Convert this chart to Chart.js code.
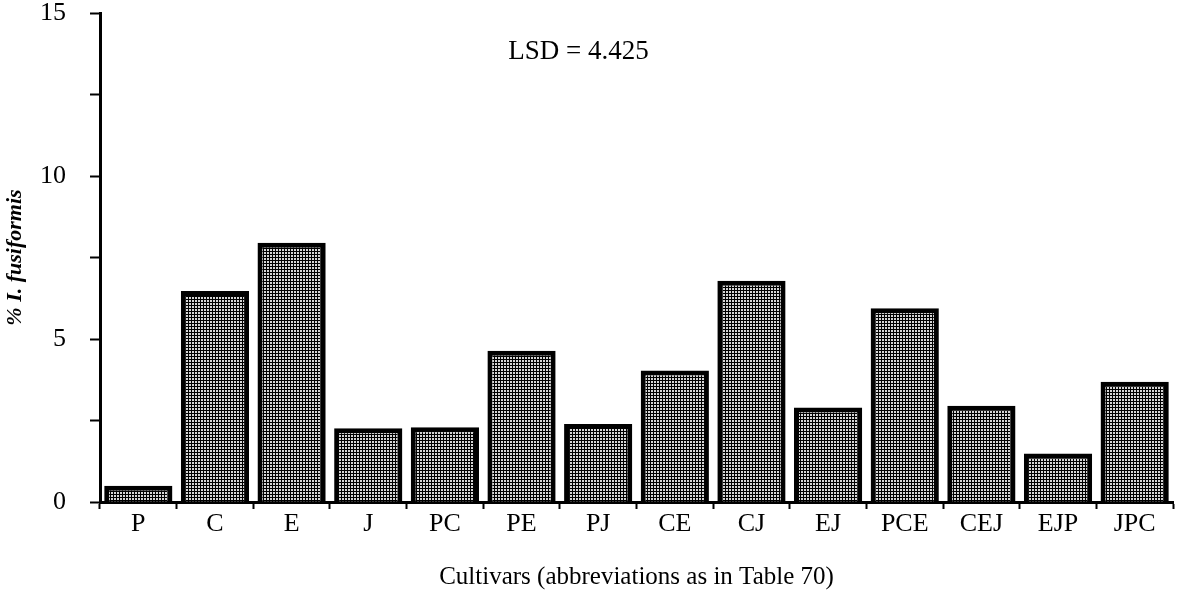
<!DOCTYPE html>
<html>
<head>
<meta charset="utf-8">
<script src="https://cdn.jsdelivr.net/npm/chart.js@4/dist/chart.umd.min.js"></script>
<style>
  html, body { margin: 0; padding: 0; background: #fff; }
  canvas { display: block; }
</style>
</head>
<body>
<canvas id="myChart" width="1180" height="601"></canvas>
<script>
// cultivar mixtures and % I. fusiformis for each
var cultivars = ['P', 'C', 'E', 'J', 'PC', 'PE', 'PJ', 'CE', 'CJ', 'EJ', 'PCE', 'CEJ', 'EJP', 'JPC'];
var percent = [0.5, 6.47, 7.95, 2.26, 2.29, 4.64, 2.39, 4.03, 6.79, 2.9, 5.94, 2.95, 1.49, 3.69];
var yTicks = [0, 5, 10, 15];
var lsdText = 'LSD = 4.425';

var serif = '"Liberation Serif", "Times New Roman", serif';
var canvas = document.getElementById('myChart');

// small dot screen used as the bar fill
function stipple() {
  var tile = document.createElement('canvas');
  tile.width = 3;
  tile.height = 3;
  var g = tile.getContext('2d');
  g.fillStyle = '#d6d6d6';
  g.fillRect(0, 0, 3, 3);
  g.fillStyle = '#000';
  g.fillRect(0, 2, 3, 1);
  g.fillRect(2, 0, 1, 3);
  return canvas.getContext('2d').createPattern(tile, 'repeat');
}

var lsdLabel = {
  id: 'lsdLabel',
  afterDraw: function (chart) {
    var ctx = chart.ctx;
    var area = chart.chartArea;
    ctx.save();
    ctx.font = '27px ' + serif;
    ctx.fillStyle = '#000';
    ctx.textAlign = 'center';
    ctx.textBaseline = 'middle';
    ctx.fillText(lsdText, area.left + area.width * 0.446, chart.scales.y.getPixelForValue(13.8));
    ctx.restore();
  }
};

var myChart = new Chart(canvas, {
  type: 'bar',
  data: {
    labels: cultivars,
    datasets: [{
      data: percent,
      backgroundColor: stipple(),
      borderColor: '#000',
      borderWidth: 5,
      categoryPercentage: 1,
      barPercentage: 0.89
    }]
  },
  options: {
    responsive: false,
    animation: false,
    layout: { padding: { left: 0, top: 13, right: 7, bottom: 0 } },
    plugins: {
      legend: { display: false },
      tooltip: { enabled: false }
    },
    scales: {
      x: {
        grid: {
          drawOnChartArea: false,
          drawTicks: true,
          tickLength: 7,
          tickWidth: 2,
          tickColor: '#000'
        },
        border: { color: '#000', width: 3 },
        ticks: {
          color: '#000',
          font: { family: serif, size: 26 },
          padding: 0,
          maxRotation: 0,
          autoSkip: false
        },
        title: {
          display: true,
          text: 'Cultivars (abbreviations as in Table 70)',
          color: '#000',
          font: { family: serif, size: 25 },
          padding: { top: 0, bottom: 9 }
        },
        afterFit: function (scale) { scale.height = 99; }
      },
      y: {
        min: 0,
        max: 15,
        grid: {
          drawOnChartArea: false,
          drawTicks: true,
          tickLength: 10,
          tickWidth: 2,
          tickColor: '#000'
        },
        border: { color: '#000', width: 3 },
        ticks: {
          stepSize: 2.5,
          color: '#000',
          font: { family: serif, size: 26 },
          padding: 24,
          callback: function (v) { return yTicks.indexOf(v) >= 0 ? v : ''; }
        },
        title: {
          display: true,
          text: '% I. fusiformis',
          color: '#000',
          font: { family: serif, size: 22, style: 'italic', weight: 'bold' },
          padding: { top: 2, bottom: 0 }
        },
        afterFit: function (scale) {
          scale.width = 100;
          scale.paddingTop = 0;
          scale.paddingBottom = 0;
        }
      }
    }
  },
  plugins: [lsdLabel]
});
</script>
</body>
</html>
